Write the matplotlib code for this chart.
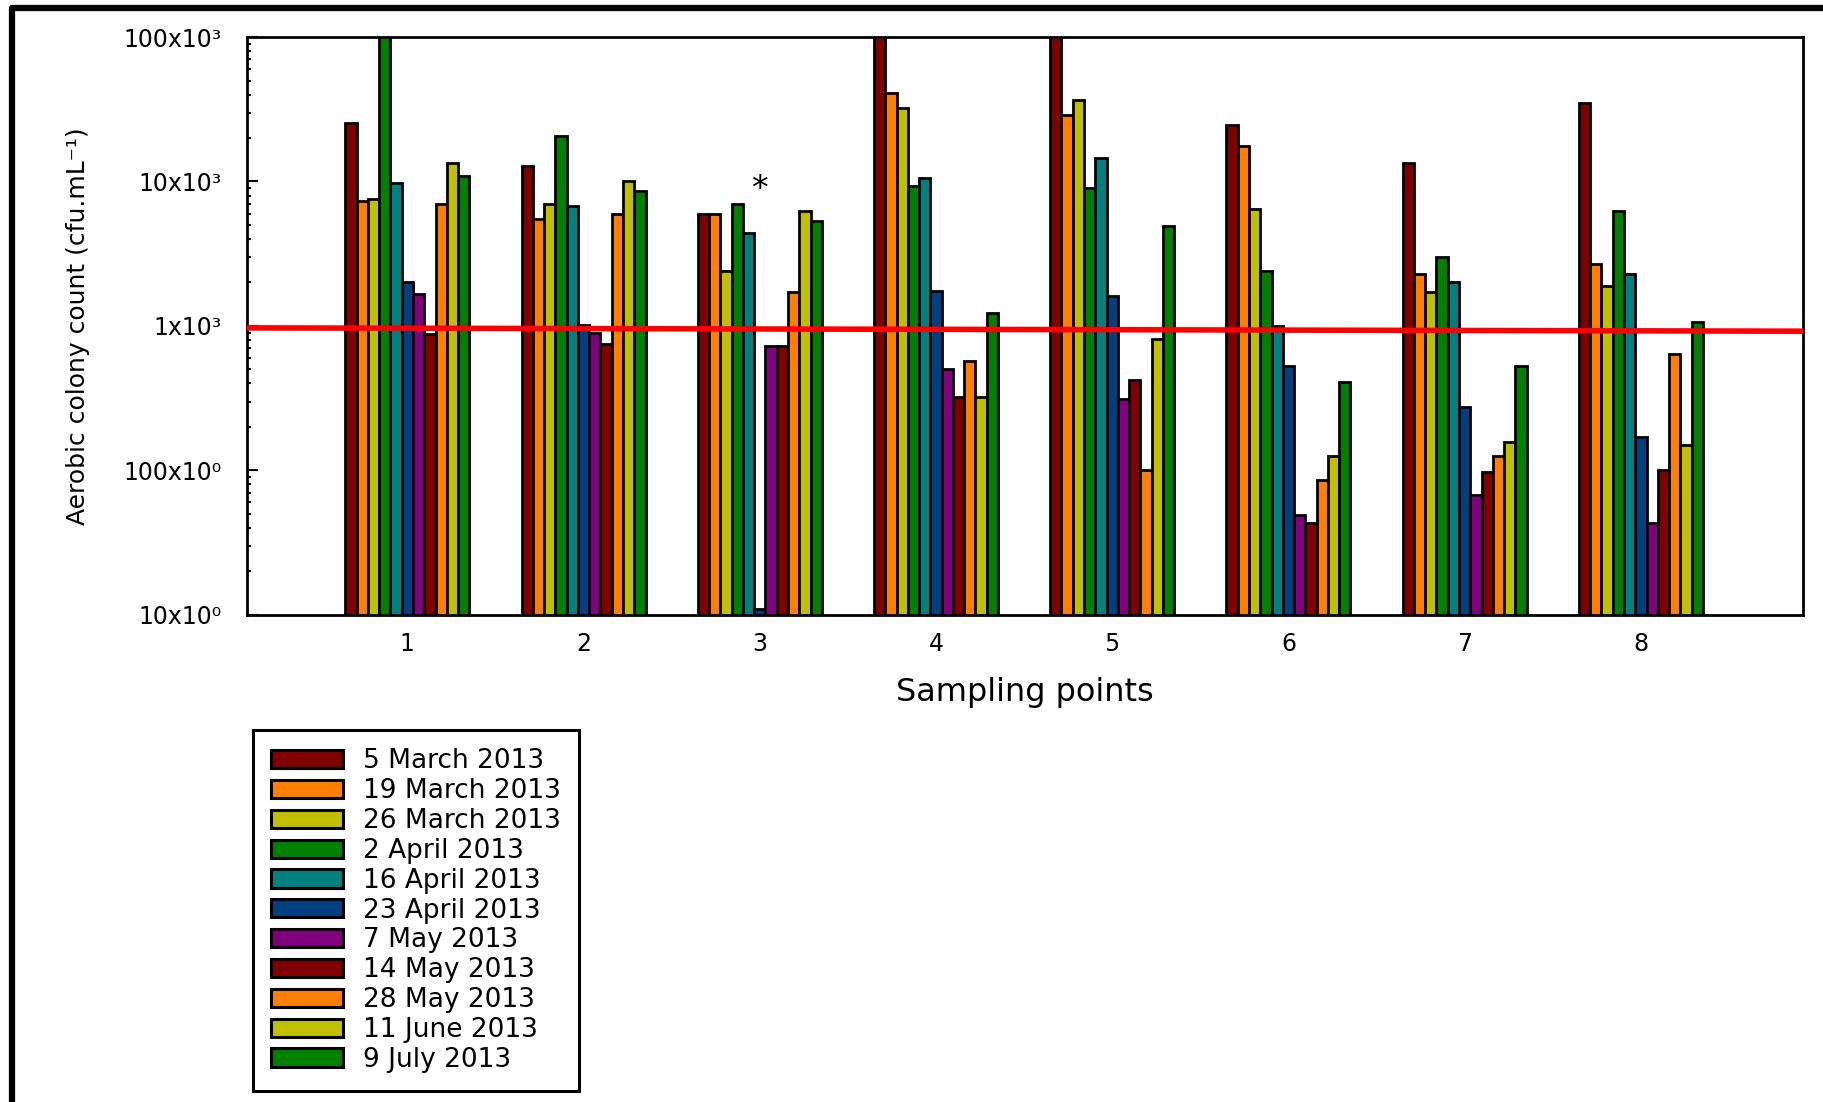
import numpy as np
import matplotlib
matplotlib.use('Agg')
import matplotlib.pyplot as plt
from matplotlib.lines import Line2D
from matplotlib.patches import Patch

plt.rcParams['font.family'] = ['DejaVu Sans']

# sampling points on the x axis
points = [1, 2, 3, 4, 5, 6, 7, 8]

# sampling dates (legend) and bar colours
dates = ['5 March 2013', '19 March 2013', '26 March 2013', '2 April 2013',
         '16 April 2013', '23 April 2013', '7 May 2013', '14 May 2013',
         '28 May 2013', '11 June 2013', '9 July 2013']
colors = ['#800000', '#ff8000', '#c0c000', '#008000', '#008080', '#004080',
          '#800080', '#800000', '#ff8000', '#c0c000', '#008000']

# aerobic colony counts (cfu/mL), one list per date, values for points 1..8
mar05 = [25500, 12800, 6000, 100000, 100000, 24700, 13450, 34900]
mar19 = [7300, 5540, 6000, 41200, 28700, 17700, 2290, 2700]
mar26 = [7600, 6980, 2390, 32300, 36700, 6490, 1720, 1890]
apr02 = [100000, 20800, 6980, 9340, 9000, 2390, 3020, 6250]
apr16 = [9750, 6770, 4370, 10600, 14650, 997, 2030, 2290]
apr23 = [2030, 1020, 11, 1745, 1600, 527, 275, 171]
may07 = [1670, 899, 727, 505, 310, 49, 67.5, 43.5]
may14 = [883, 745, 727, 320, 426, 43.5, 97.7, 101]
may28 = [6980, 5990, 1720, 573, 101, 86.5, 125, 640]
jun11 = [13450, 10100, 6290, 320, 811, 125, 158, 151]
jul09 = [11000, 8630, 5370, 1220, 4930, 410, 527, 1070]
series = [mar05, mar19, mar26, apr02, apr16, apr23, may07, may14, may28, jun11, jul09]

# red reference line (left end, right end)
limit_line = [970, 920]
ytick_vals = [10, 100, 1000, 10000, 100000]
ytick_labels = ['10x10⁰', '100x10⁰', '1x10³', '10x10³', '100x10³']

fig = plt.figure(figsize=(18.24, 11.02), dpi=100)
ax = fig.add_axes([0.1354, 0.442, 0.8531, 0.5244])

n = len(series)
w = 0.064
x = np.array(points, dtype=float)
for i, vals in enumerate(series):
    ax.bar(x + (i - (n - 1) / 2) * w, vals, width=w, bottom=0,
           color=colors[i], edgecolor='black', linewidth=2.0, zorder=2)

ax.set_yscale('log')
ax.set_ylim(10, 100000)
ax.set_xlim(0.09, 8.92)
ax.plot([0.09, 8.92], limit_line, color='red', linewidth=4, zorder=3)

# asterisk over the missing 23 April sample at point 3
ax.text(3.0, 8800, '*', fontsize=24, ha='center', va='center')

ax.set_yticks(ytick_vals)
ax.set_yticklabels(ytick_labels, fontsize=17)
ax.set_xticks(points)
ax.set_xticklabels([str(p) for p in points], fontsize=17)
ax.tick_params(axis='y', which='major', direction='in', length=8, width=1.5, pad=18)
ax.tick_params(axis='y', which='minor', direction='in', length=3, width=1.5)
ax.tick_params(axis='x', length=0, pad=12)
for s in ax.spines.values():
    s.set_linewidth(2)

ax.set_ylabel('Aerobic colony count (cfu.mL⁻¹)', fontsize=18)
ax.yaxis.set_label_coords(-0.101, 0.5)
ax.set_xlabel('Sampling points', fontsize=23)
ax.xaxis.set_label_coords(0.5, -0.108)

handles = [Patch(facecolor=c, edgecolor='black', linewidth=2.2) for c in colors]
leg = fig.legend(handles, dates, loc='upper left',
                 bbox_to_anchor=(0.1387, 0.3376), borderaxespad=0, fontsize=19,
                 handlelength=2.7, handleheight=0.68, labelspacing=0.145,
                 handletextpad=0.75, borderpad=0.7, fancybox=False,
                 edgecolor='black', framealpha=1)
leg.get_frame().set_linewidth(2.2)

# thick frame on the left and top of the figure
fig.add_artist(Line2D([12 / 1824, 12 / 1824, 1.0], [0.0, 1 - 8 / 1102, 1 - 8 / 1102],
                      transform=fig.transFigure, color='black', linewidth=4.5,
                      solid_joinstyle='round'))

fig.savefig('out.png', dpi=100)
